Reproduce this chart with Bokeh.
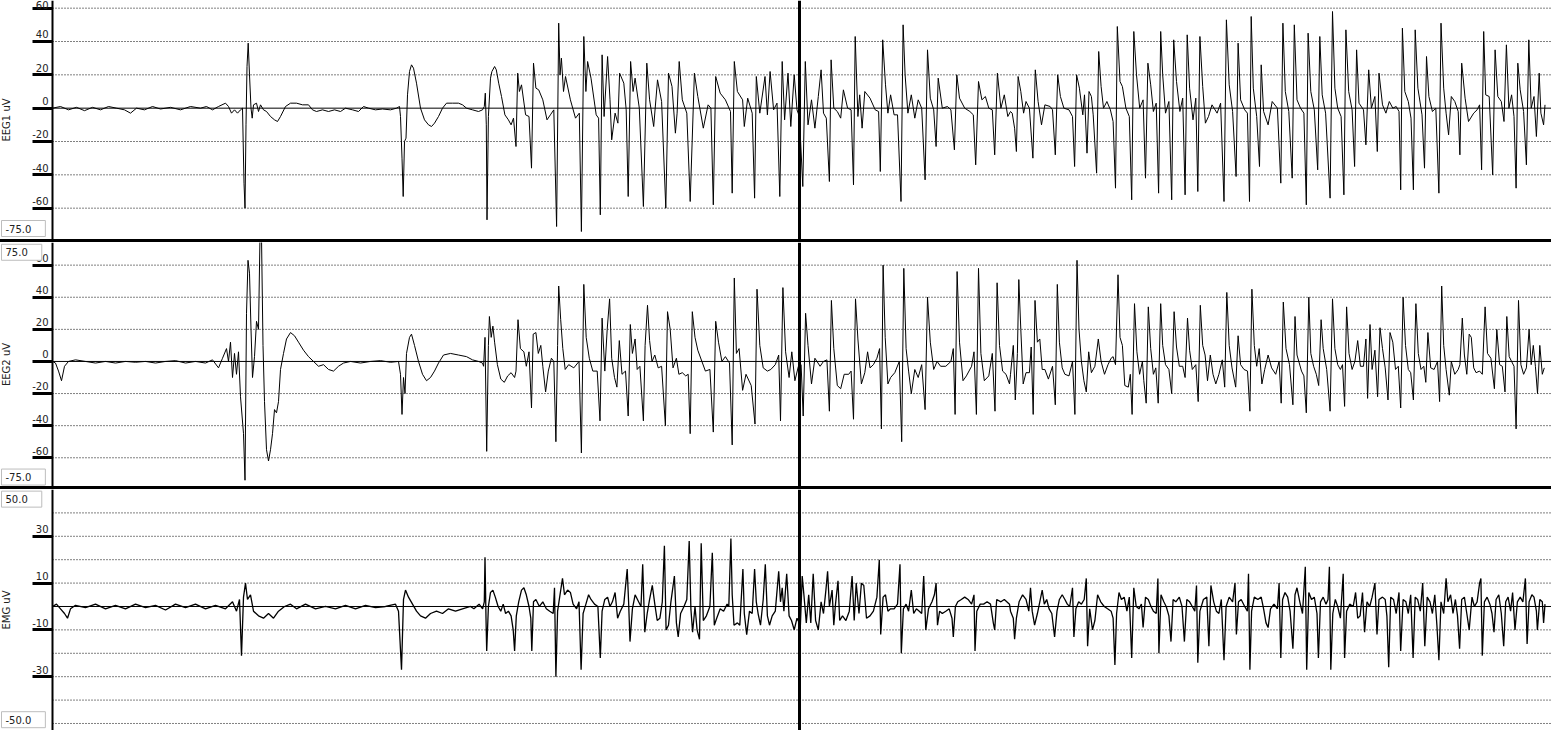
from bokeh.plotting import figure
from bokeh.layouts import column
from bokeh.models import Range1d, FixedTicker, Span, Label, Div, ColumnDataSource
from bokeh.embed import file_html
from bokeh.resources import INLINE

# ---------------- data (sample index, microvolts) ----------------
eeg1 = [(52,0),(60,1),(68,-1),(76,0.5),(84,-1.5),(92,0.5),(100,-1),(108,1),(116,0),(124,-1),(130,-3),(136,0),(144,-1),(152,1),(160,-0.5),(170,0.5),(180,-1),(190,1),(200,0),(206,1),(212,-1),(218,1),(225,3),(228,1),(231,-3),(234,-1),(237,-3),(240,-1),(242,0),(243.5,-45),(244.5,-60),(245.5,-10),(246.5,25),(247.7,39),(249,20),(250.5,0),(251.7,-6),(253,2),(256,3),(258,-2),(260,2),(263,-1),(266,-2),(270,-5),(274,-7),(277,-8),(280,-5),(285,1),(290,3),(296,3),(302,2),(308,2),(312,-1),(316,-2),(322,-1),(328,-2),(334,-1),(340,-2),(345,0),(352,-1),(358,-2),(363,1),(368,0),(375,-1),(382,-0.5),(390,-1),(396,0),(399,1),(400,-5),(401.5,-30),(402.7,-53),(404,-20),(405.5,-18),(407,8),(409,22),(411,26),(413,24),(416,15),(420,0),(424,-7),(428,-10),(431,-11),(434,-9),(438,-5),(442,0),(446,3),(452,3),(458,3),(462,2),(466,0),(472,-1),(478,-2),(482,-1),
(483.8,1),(484.8,9),(485.8,-10),(486.5,-67),(487.9,-5),(490,18),(491.4,22),(494.1,25),(495.8,23),(498.2,15),(501,7),(504.4,-4),(507.9,-7),(510.6,-10),(513,-6),(515.5,-23),(517.2,21),(518.9,10),(521,14),(525.1,-4),(528.5,-5),(531,-36),(533,27),(535.4,12),(538.2,11),(542.3,5),(546.5,-7),(549.9,-4),(553.3,-1),(556.1,-71),(558.2,51),(559.5,20),(560.9,30),(563,10),(565,19),(569.9,5),(575,-6),(578.8,-3),(580.9,-74),(583.3,43),(585.4,10),(587.1,28),(590.5,18),(595.7,-4),(598.1,-6),(599.8,-64),(601.6,32),(603.6,-5),(607.1,31),(609.5,5),(611.2,-19),(614.6,-3),(617.4,-9),(619.1,21),(623.3,15),(625.7,-1),(627.7,-53),(630.1,28),(632.6,10),(634.6,18),(638.8,0),(642.9,-59),(646.3,27),(649.1,5),(653.2,-11),(657,17),(661.1,4),(665.3,-60),(668,21),(671.5,13),(674.9,-15),(676.6,-3),(678.7,28),(681.8,5),(686.3,-3),(689.7,-56),(693.9,21),(697.3,7),(702.8,-12),(707.6,2),(710.4,0),(712.8,-58),(715.2,19),(719.7,9),(724.9,5),(730,-2),(731.7,-51),(733.8,28),(736.9,10),(742.1,5),(743.8,-11),(747.2,6),(751.7,-3),(754.1,-54),(755.8,19),(759.3,-3),(764.5,19),(766.9,-4),(769.6,22),(773.1,-1),(776.5,3),(779.3,-53),(781.7,28),(784.1,-7),(787.5,21),(790.3,-11),(793.7,20),(796.5,-1),(798.9,-5),(802.3,-47),(804.8,28),(807.5,-10),(811,5),(814.4,-12),(817.8,7),(820.6,23),(823,-3),(825.8,-6),(828.9,-44),(830.6,29),(833.3,0),(836.8,-2),(840.2,-6),(842.9,11),(847.1,0),(850.6,-1),(853,-46),(854.7,43),(857.4,-5),(859.2,8),(861.6,-12),(864.3,10),(869.5,6),(874.7,-1),(878.1,-2),(879.8,-38),(882.2,41),(885,14),(887.4,-3),(890.1,8),(893.6,-4),(897,-4),(900.5,-56),(902.6,50),(904.6,20),(907.4,-3),(910.8,8),(914.3,-6),(917.7,5),(921.2,0),(924.6,-43),(927,35),(929.8,6),(933.2,-1),(935.6,-23),(937.7,18),(941.8,0),(947,1),(950.4,-1),(953.9,-25),(956.3,20),(959,6),(964.2,0),(969.4,-2),(972.8,-4),(975.2,-34),(978,16),(981.4,5),(984.9,7),(988.3,0),(991.8,-1),(994.2,-28),(996.9,21),(1000.4,0),(1003.8,8),(1007.3,-5),
(1010,-2),(1011.7,-3),(1014.1,-12),(1015.9,-26),(1017.6,19),(1020.3,10),(1023.1,-3),(1025.5,4),(1028.9,0),(1032.4,-30),(1034.8,23),(1037.6,4),(1041,-10),(1044.4,2),(1049.6,1),(1052,-1),(1054.8,-28),(1057.2,20),(1059.9,7),(1063.4,0),(1068.5,-1),(1072,-5),(1074.1,-35),(1076.1,20),(1078.9,12),(1082.3,-4),(1084,8),(1086.5,-27),(1088.5,10),(1090.9,7),(1092.7,-4),(1096.1,-39),(1098.2,34),(1100.6,13),(1103,0),(1106.4,4),(1109.9,-1),(1112.6,-8),(1115,-48),(1116.8,49),(1119.5,16),(1121.9,13),(1125.4,0),(1128.8,-5),(1131.2,-55),(1133.3,46),(1136,20),(1139.2,0),(1142.6,5),(1145,-42),(1147.4,27),(1150.2,14),(1152.9,-2),(1155.7,3),(1158.1,-51),(1160.2,46),(1162.2,20),(1165,-3),(1168.4,4),(1171.2,-55),(1173.2,41),(1176,16),(1179.4,-2),(1182.2,6),(1184.6,-52),(1186.7,44),(1189.1,12),(1192.5,-7),(1195.3,6),(1197.3,-50),(1199.4,43),(1202.2,13),(1204.9,-9),(1208,-5),(1211.5,2),(1216.6,-3),(1220.1,3),(1223.5,-56),(1225.9,53),(1228.7,14),(1232.1,-2),(1235.6,-41),(1237.6,39),(1240.1,5),(1244.2,-1),(1246.9,-3),(1249,-56),(1250.7,55),(1252.8,12),(1256.2,-5),(1259,-35),(1260.7,26),(1263.1,-2),(1267.6,-10),(1271.7,4),(1276.9,0),(1280.3,-45),(1282.4,51),(1284.8,10),(1288.3,-2),(1291.7,-42),(1293.8,50),(1296.5,5),(1300,0),(1303.4,-3),(1305.8,-58),(1307.6,45),(1310.3,10),(1313.8,-1),(1317.2,-37),(1319.3,43),(1321.7,8),(1325.1,-3),(1329.6,-54),(1332,58),(1334.4,12),(1337.2,0),(1340.6,-5),(1343.4,-52),(1345.4,47),(1348.2,10),(1351.6,-1),(1354.1,-35),(1356.1,35),(1358.5,3),(1363,-1),(1365.4,-22),(1368.2,23),(1370.9,0),(1374.4,7),(1376.8,-26),(1378.5,21),(1382,2),(1385.4,-3),(1388.8,4),(1392.3,0),(1395.7,1),(1398.5,-2),(1400.2,-49),(1401.9,48),(1404.3,10),(1407.8,4),(1410.5,-6),(1412.9,-49),(1414.7,47),(1417.4,12),(1421.5,-4),(1424,-36),(1426,31),(1428.4,7),(1431.9,-2),(1435.3,0),(1438.4,-51),(1440.5,51),(1443.2,12),(1445.6,-3),(1448.1,-16),(1450.8,7),(1454.3,4),(1457.7,-2),(1459.4,-28),(1461.2,27),(1464.6,6),(1468,-8),(1473.2,-3),(1476.6,-1),(1479.1,2),(1481.1,-37),(1483.2,46),(1485.2,8),(1488.7,7),(1492.2,-40),(1494.6,35),(1497.3,7),(1500.8,4),(1503.5,-8),(1505.9,38),(1508.4,0),(1511.1,8),(1513.5,-5),(1515.6,-48),(1517.3,27),(1519.7,11),(1523.1,-2),(1525.9,-34),(1528.3,41),(1530.7,0),(1533.5,7),(1535.9,-17),(1538.7,21),(1540.4,-3),(1543.1,-10),(1544.5,2)]

eeg2 = [(52,0),(55,-1),(58,-6),(61,-12),(64,-3),(68,0),(75,1),(85,0),(95,-1),(105,0),(115,-1),(125,0),(135,-0.5),(145,0),(155,-1),(165,0),(175,0.5),(185,-1),(195,0),(205,-1),(212,1),(218,-4),(222,2),(226,8),(228,0),(230,12),(232,-10),(234,5),(236,-8),(238,6),(240,-22),(243,-45),(244.5,-74),(246,30),(247.5,63),(249,55),(250.5,20),(252,-10),(254,3),(256,25),(258,20),(259.5,78),(261,78),(262.5,10),(264,-25),(266,-55),(268,-62),(270,-55),(272,-45),(274,-30),(276,-32),(278,-25),(280,-5),(283,5),(286,14),(290,18),(294,16),(298,12),(303,7),(308,3),(313,0),(318,-3),(323,-2),(328,-5),(333,-6),(338,-3),(343,-1),(350,0),(360,-1),(370,0),(380,0.5),(390,-0.5),(398,0),(400,-8),(401.5,-33),(403,-10),(404.5,-20),(406,5),(409,15),(411,17),(414,10),(418,0),(422,-8),(426,-12),(430,-10),(434,-6),(438,-1),(443,4),(450,5),(458,4),(466,3),(472,1),(478,0),(482,-1),
(483.1,-3),(484.5,15),(486.2,-56),(487.9,10),(488.9,28),(490.7,15),(492.4,22),(494.1,12),(496.9,-2),(500.3,-11),(503.8,-13),(507.2,-9),(510.6,-7),(514.1,-10),(515.5,-6),(517.5,26),(519.9,8),(523.4,6),(525.8,-3),(528.5,6),(531,-29),(532.7,17),(535.4,18),(537.8,5),(540.3,10),(542.3,-3),(545.1,-19),(547.8,-6),(550.9,2),(553.3,0),(555.4,-50),(557.1,10),(558.2,47),(560.2,26),(562.3,8),(564.7,-5),(568.2,-2),(573.3,-4),(578.5,0),(580.9,-57),(583.3,48),(585.7,15),(588.8,2),(592.3,-6),(596.7,-6),(599.5,-37),(601.6,27),(604.3,-6),(606.7,20),(609.1,39),(611.2,2),(614,-10),(616.4,-16),(618.8,13),(621.5,-8),(625,-6),(627.7,-34),(629.8,23),(631.9,5),(634.6,14),(636.7,-5),(639.4,-3),(642.9,-37),(644.6,10),(647,35),(649.1,13),(651.5,0),(654.3,4),(657.7,-4),(661.1,-3),(664.9,-40),(667,31),(669.7,20),(672.5,-4),(675.9,2),(678.4,-8),(681.8,-7),(685.2,-9),(687.7,-8),(689.7,-45),(691.8,31),(694.5,15),(697.3,7),(701.4,0),(704.9,-6),(709.4,-5),(712.8,-44),(715.2,25),(718,12),(721.4,0),(724.9,3),(729,-1),(731.7,-52),(733.8,52),(735.9,5),(738.6,8),(742.1,-18),(745.5,-8),(750.7,-15),(754.5,-39),(756.5,45),(759.3,10),(762.7,-4),(766.9,-6),(770.3,-5),(774.8,-2),(778.2,4),(780,-37),(782.4,46),(785.1,6),(788.6,-10),(791.3,6),(794.4,-12),(797.9,-3),(800.6,-2),(802.7,-34),(805.1,30),(807.5,10),(811,-14),(814.4,2),(819.6,-3),(823,0),(826.4,1),(828.9,-31),(830.9,38),(833.3,8),(836.8,-15),(840.2,-17),(843.7,-8),(848.2,-8),(850.6,-6),(853,-36),(855,39),(857.4,14),(860.9,-14),(864.3,-7),(867.1,6),(869.5,-4),(872.9,-2),(876.4,2),(879.1,8),(880.9,-42),(882.6,60),(884.7,15),(887.4,-14),(890.1,-10),(894.3,-7),(898.8,0),(901.2,-50),(903.3,58),(905.6,8),(908.1,-6),(910.8,-20),(914.3,-5),(917.7,-10),(921.2,-2),(924.6,-30),(927,40),(929.8,12),(933.2,-5),(936.6,0),(940.1,-3),(945.3,-3),(950.4,0),(952.8,8),(954.6,-33),(956.6,56),(959,12),(962.5,-12),(965.9,-9),(971.1,-3),(973.5,6),(975.9,-33),(978,58),(980.4,5),(983.8,-12),(988.3,-9),(991.8,5),(994.5,-31),(996.6,49),(999,10),(1002.1,-6),(1005.5,-8),(1009,-14),
(1010,-8),(1012.8,10),(1014.8,-24),(1016.9,5),(1018.3,51),(1020.3,20),(1022.7,-14),(1025.5,-7),(1028.9,-7),(1030.7,9),(1032.7,-33),(1034.5,38),(1036.9,12),(1039.3,14),(1041.7,-5),(1044.4,-5),(1047.9,-11),(1052,-3),(1054.8,-27),(1056.8,48),(1058.9,12),(1061.7,-4),(1064.4,-8),(1068.5,-9),(1072,0),(1074.4,-33),(1076.5,63),(1078.5,20),(1080.9,0),(1083.4,-12),(1085.8,-19),(1088.2,6),(1090.9,-7),(1094.4,-3),(1097.8,14),(1100.6,0),(1104,-8),(1107.5,-2),(1110.6,2),(1112.6,3),(1115,-2),(1117.5,54),(1119.5,15),(1121.9,10),(1124.3,-15),(1127.8,-16),(1129.8,-8),(1131.6,-33),(1134,36),(1136.4,6),(1139.1,-8),(1141.9,0),(1143.3,-12),(1145.7,-26),(1147.8,34),(1150.2,8),(1152.9,-8),(1155.3,-4),(1157.7,-26),(1160.2,36),(1162.2,10),(1165,-2),(1168.4,-5),(1171.2,-20),(1173.6,31),(1176,9),(1178.8,-3),(1182.2,-3),(1184.6,-10),(1187,27),(1189.1,7),(1191.8,-5),(1195.3,-2),(1197.7,-25),(1199.8,35),(1202.2,10),(1204.6,4),(1207,-12),(1209.8,4),(1212.5,-8),(1215.3,-14),(1218.4,-8),(1221.8,1),(1224.2,-16),(1226.3,43),(1228.7,10),(1231.5,-4),(1235.2,-16),(1237.6,16),(1240.1,-2),(1243.5,-5),(1247,-6),(1249.4,-31),(1251.4,45),(1253.8,10),(1256.2,-3),(1258.7,8),(1261.4,-14),(1264.2,-5),(1267.6,4),(1271.1,-4),(1275.2,-8),(1278.6,0),(1280.7,-26),(1282.8,37),(1285.5,8),(1289,-2),(1292.4,-27),(1294.5,28),(1296.5,4),(1301,-6),(1303.4,-9),(1305.8,-32),(1308.3,40),(1310.3,5),(1313.1,-3),(1315.8,-8),(1318.2,-15),(1320.6,26),(1322.7,8),(1326.2,-5),(1329.6,-31),(1332,39),(1334.4,8),(1337.2,-2),(1339.9,-5),(1342,-2),(1344.1,-28),(1346.1,34),(1348.5,5),(1351.6,-5),(1354.4,0),(1357.2,13),(1359.9,-3),(1363,-3),(1365.4,14),(1367.1,-23),(1369.5,23),(1371.6,-5),(1374.4,7),(1377.1,-22),(1379.5,21),(1382,8),(1384.7,-4),(1387.5,-24),(1389.5,18),(1392.3,12),(1395,-5),(1397.8,-3),(1400.2,-29),(1402.6,40),(1405,10),(1407.8,-5),(1410.2,-7),(1412.9,-24),(1415.4,36),(1417.8,5),(1420.5,-5),(1423.3,-3),(1425.3,-13),(1427.4,18),(1430.2,-4),(1433.6,-5),(1437,0),(1439.1,-25),(1441.2,47),(1443.2,10),(1445.6,-5),(1448.8,-21),(1450.8,0),(1454.3,-8),(1457.7,-5),(1459.4,-2),(1461.8,27),(1463.9,4),(1466.3,-8),(1468.7,17),(1470.8,15),(1473.2,-4),(1475.6,-7),(1479.1,-6),(1481.8,-8),(1484.6,34),(1487,5),(1490.4,2),(1493.9,-17),(1496.3,20),(1499.1,-2),(1501.8,-3),(1504.5,-19),(1506.3,28),(1508.7,3),(1511.1,0),(1513.5,-3),(1515.6,-42),(1518,38),(1520.4,-2),(1523.1,-8),(1525.9,-4),(1528.6,20),(1530.7,-2),(1532.8,10),(1534.9,-3),(1537,-20),(1539.3,10),(1541.8,-8),(1543.8,-4)]

emg = [(52,0),(56,1),(60,-1),(64,-3),(67,-5),(70,-1),(75,0.5),(85,-0.5),(95,1),(105,-1),(115,0.5),(125,-1),(135,1),(145,-0.5),(155,0.5),(165,-1.5),(175,1),(185,-0.5),(195,1),(205,-1),(215,0.5),(225,-1),(232,2),(236,-2),(239,3),(241,-21),(243,4),(245,10),(247,3),(250,5),(253,-2),(258,-4),(263,-5),(268,-3),(273,-5),(278,-2),(284,0),(290,1),(296,-1),(305,1),(315,-1),(325,0),(335,-1),(345,0.5),(355,-1),(365,0.5),(375,-0.5),(385,0),(395,1),(398,-2),(401,-27),(403,3),(405,7),(408,4),(412,1),(416,-2),(420,-4),(425,-5),(430,-3),(436,-2),(442,-3),(448,-1),(455,-2),(462,-1),(470,0),
(473.4,-1),(478.6,1),(482.1,-1),(483.8,2),(484.5,21),(485.5,-5),(486.2,-19),(487.9,0),(490,6),(492.4,7),(494.8,4),(497.6,0),(500.3,-2),(502.7,1),(505.1,-3),(507.9,-2),(510.6,-4),(512.7,-10),(514.1,-19),(515.8,-4),(518.2,2),(521,7),(523.4,8),(525.8,5),(528.5,0),(530.3,-5),(531.3,-19),(533,2),(535.4,3),(538.9,0),(542.3,2),(545.8,-1),(549.2,-2),(552.7,-3),(554,8),(555.4,-30),(557.1,-2),(559.5,5),(562,12),(564,5),(567.1,7),(569.9,6),(572.6,1),(576.1,-1),(578.5,2),(580.6,-27),(582.6,-3),(585.4,1),(588.1,5),(590.5,3),(594,1),(597.4,0),(599.8,-22),(601.6,-2),(604.3,3),(607.1,4),(609.5,0),(611.9,2),(614.6,6),(617.1,-5),(619.8,-2),(623.3,1),(626.7,16),(628.1,2),(629.5,-15),(631.9,-1),(634.6,5),(638.1,2),(640.5,0),(642.2,18),(644.3,-11),(646.7,-3),(649.1,3),(651.8,9),(654.3,1),(656.7,-6),(659.4,-5),(661.8,2),(663.9,26),(665.6,-10),(668,-8),(670.4,2),(673.9,13),(675.9,-7),(677.7,-13),(680.1,-3),(683.5,0),(686.3,3),(688.7,28),(690.4,-1),(692.1,-11),(694.5,0),(696.6,-10),(699,-14),(700.7,27),(702.8,-6),(705.9,-4),(709.4,0),(711.8,23),(713.8,-8),(716.2,-5),(719.7,-1),(723.1,-2),(726.6,1),(728.3,0),(730.4,29),(731.7,5),(733.5,-8),(736.9,-7),(739.3,-8),(742.4,16),(743.8,-3),(746.2,-12),(749,-2),(751.7,-3),(754.1,16),(755.8,2),(757.6,-3),(760,-8),(762.7,3),(764.8,18),(766.9,-4),(769,-8),(771.7,-4),(774.8,-2),(778.2,15),(780,2),(781.7,8),(783.4,-2),(786.2,14),(788.6,-4),(791,-6),(793.7,-10),(796.5,-5),(799.9,-8),(801.7,13),(803.4,5),(805.8,-7),(808.2,5),(810.3,-7),(812.7,14),(815.1,-6),(817.8,-10),(820.6,2),(823,-3),(825.4,7),(827.1,15),(828.9,0),(831.6,7),(833.3,-8),(835,1),(837.5,11),(839.2,-6),(842,-4),(845.4,-6),(848.8,-2),(851.6,13),(853.7,-6),(855.7,10),(858.5,-3),(860.9,10),(863.3,9),(866,-5),(869.5,-4),(872.9,-2),(876.4,4),(878.8,20),(880.2,-12),(882.6,4),(885,5),(887.4,-2),(890.1,-1),(893.6,-1),(897,1),(899.5,18),(900.8,-20),(902.9,-1),(905.6,1),(908.1,-2),(910.8,7),(913.2,-3),(915.9,-1),(918.8,-2),(921.2,-3),(923.2,13),(925.3,-10),(928,-1),(931.5,2),(933.9,5),(935.6,10),(937,-8),(939.1,-2),(941.8,-3),(945.3,-2),(948.7,-1),(951.5,-5),(952.8,-13),(954.9,0),(957.3,2),(960.8,3),(964.2,4),(967.6,3),(971.1,1),(973.5,5),(974.5,-19),(976.3,-2),(979.7,1),(983.1,1),(986.6,2),(990,1),(992.8,-7),(994.2,-10),(996.2,3),(1000.4,2),(1003.8,3),(1009,1),
(1010,-2),(1012.8,-5),(1014.1,-14),(1015.9,-5),(1018.6,2),(1022.1,5),(1025.5,3),(1028.3,-2),(1030,8),(1031.7,-2),(1034.1,-8),(1036.9,-3),(1039.3,2),(1041.7,7),(1043.8,1),(1046.2,3),(1048.6,-1),(1051.3,-3),(1054.1,-13),(1056.5,-2),(1058.9,3),(1061.7,5),(1064.4,3),(1066.8,1),(1069.2,0),(1072,8),(1073.4,-13),(1075.4,-1),(1078.2,2),(1080.9,1),(1083.7,3),(1085.8,12),(1087.1,-17),(1089.2,-1),(1092,-10),(1094.4,-6),(1097.1,5),(1100.2,2),(1103.7,0),(1107.1,-1),(1110.6,-2),(1112.6,-5),(1114.4,-25),(1116.1,-3),(1118.5,6),(1120.9,3),(1123.7,4),(1126.4,-2),(1128.8,4),(1131.2,-22),(1133.3,8),(1135.7,0),(1138.5,-1),(1140.9,1),(1142.6,-9),(1145,4),(1147.8,3),(1150.5,0),(1152.9,-2),(1155.7,-3),(1157.4,12),(1158.4,-20),(1160.5,5),(1163.3,2),(1165.7,0),(1168.4,-4),(1170.5,-15),(1172.6,3),(1175.3,2),(1178.8,4),(1181.5,0),(1183.9,-15),(1186.3,3),(1189.1,2),(1191.8,0),(1194.3,-2),(1196,9),(1197.3,-24),(1199.4,-2),(1202.9,3),(1206.3,4),(1208.4,-17),(1210.4,9),(1213.2,2),(1215.9,-2),(1218.4,-3),(1220.8,3),(1223.5,-23),(1225.6,0),(1228.7,4),(1232.1,2),(1234.5,10),(1235.9,-12),(1238,2),(1240.7,3),(1244.2,0),(1246.9,-2),(1248,14),(1249.4,-27),(1251.1,-2),(1253.8,4),(1257.3,3),(1260.7,4),(1263.1,-1),(1265.5,-7),(1267.6,-9),(1270,-1),(1273.5,1),(1276.9,-1),(1278.6,10),(1280.3,-22),(1282.1,3),(1284.5,6),(1287.2,4),(1289.6,-2),(1292.4,-18),(1294.5,5),(1296.5,8),(1299.3,2),(1302,-3),(1304.8,17),(1306.2,-27),(1308.3,6),(1311,3),(1313.8,4),(1316.5,-3),(1317.9,-22),(1320,2),(1322.7,4),(1325.5,1),(1327.5,3),(1328.9,17),(1330.3,-27),(1332.3,-3),(1334.8,3),(1337.2,0),(1339.9,-5),(1342.7,14),(1344.1,-22),(1346.1,-2),(1349.2,1),(1352.7,0),(1355.1,6),(1357.2,-5),(1359.6,-4),(1362,6),(1364.1,-11),(1366.5,2),(1369.2,0),(1371.6,4),(1374.4,10),(1376.5,-12),(1378.5,3),(1382,4),(1384.7,3),(1386.4,-4),(1388.2,-26),(1390.2,4),(1393,3),(1395.7,-3),(1398.5,6),(1400.2,-19),(1402.6,3),(1405.4,2),(1407.8,-3),(1410.2,5),(1412.6,-22),(1414.7,4),(1417.1,3),(1419.8,-2),(1422.2,10),(1424.3,-17),(1426.7,4),(1429.5,2),(1431.9,-3),(1434.3,5),(1436.4,-8),(1438.4,-23),(1440.5,2),(1443.2,-3),(1445.6,12),(1447.4,2),(1450.1,5),(1452.5,-3),(1454.9,3),(1457,-4),(1459.1,-18),(1461.2,3),(1463.9,4),(1466.3,-3),(1468.7,-10),(1471.5,4),(1473.9,0),(1476.6,2),(1479.1,10),(1480.4,12),(1481.8,-21),(1483.9,2),(1486.6,4),(1489.4,1),(1491.5,-3),(1493.5,-11),(1495.6,3),(1498.3,5),(1500.8,-3),(1503.2,-17),(1505.2,2),(1507.6,4),(1510.1,-2),(1512.1,6),(1514.5,-10),(1516.9,2),(1519.7,4),(1522.4,2),(1524.9,12),(1526.6,-16),(1528.6,2),(1531.4,5),(1533.5,4),(1535.9,-2),(1536.9,-10),(1539.3,3),(1541.8,2),(1543.1,-7),(1544.5,1)]

channel_names = ["EEG1 uV", "EEG2 uV", "EMG uV"]
eeg_ticks = [-60, -40, -20, 0, 20, 40, 60]
eeg_grid = [-60, -40, -20, 20, 40, 60]
emg_ticks = [-30, -10, 10, 30]
emg_grid = [-50, -40, -30, -20, -10, 10, 20, 30, 40]
eeg_scale = ["75.0", "-75.0"]
emg_scale = ["50.0", "-50.0"]
window_start, trace_start, window_end = 0, 52, 1551   # samples shown / where the trace area starts
cursor_sample = 799

FONT = "DejaVu Sans"
FULL_W = 1551


def panel(data, height, y0, y1, ticks, lift, grid, name, top_txt, top_y, bot_txt, bot_y, lw):
    p = figure(width=FULL_W, height=height, x_range=Range1d(window_start, window_end),
               y_range=Range1d(y0, y1), output_backend="svg", toolbar_location=None,
               x_axis_location=None, min_border_left=0, min_border_right=0,
               min_border_top=0, min_border_bottom=0)
    p.outline_line_color = None
    p.xgrid.visible = False
    p.ygrid.visible = False
    # dotted reference lines and the solid zero line, only over the trace area
    p.segment(x0=trace_start, x1=window_end, y0=grid, y1=grid, line_color="black",
              line_dash="1 2", line_width=1)
    p.segment(x0=[trace_start], x1=[window_end], y0=[0], y1=[0], line_color="black", line_width=1)

    ax = p.yaxis[0]
    ax.fixed_location = trace_start
    # labels sit just above the thick tick bars (bars = minor ticks at the values)
    ax.ticker = FixedTicker(ticks=[t + lift for t in ticks], minor_ticks=ticks)
    ax.major_label_overrides = {t + lift: str(t) for t in ticks}
    ax.axis_label = name
    ax.axis_label_text_font = FONT
    ax.axis_label_text_font_size = "10px"
    ax.axis_label_text_font_style = "normal"
    ax.axis_label_text_color = "#222222"
    ax.axis_label_standoff = 17
    ax.major_label_text_font = FONT
    ax.major_label_text_font_size = "10px"
    ax.major_label_text_color = "#222222"
    ax.major_label_standoff = -16
    ax.major_tick_out = 20
    ax.major_tick_in = 0
    ax.major_tick_line_color = None
    ax.minor_tick_out = 20
    ax.minor_tick_in = 0
    ax.minor_tick_line_width = 3
    ax.minor_tick_line_color = "black"
    ax.axis_line_width = 2
    ax.axis_line_color = "black"

    src = ColumnDataSource(dict(t=[d[0] for d in data], v=[d[1] for d in data]))
    p.line("t", "v", source=src, line_color="black", line_width=lw)
    p.add_layout(Span(location=cursor_sample, dimension="height", line_color="black", line_width=3))

    for txt, yv, base in [(top_txt, top_y, "top"), (bot_txt, bot_y, "bottom")]:
        if txt is None:
            continue
        p.add_layout(Label(x=window_start + 1, y=yv, x_units="data", y_units="data", text=txt,
                           text_font=FONT, text_font_size="10px", text_color="#222222",
                           text_baseline=base, border_line_color="#bdbdbd",
                           background_fill_color="white", padding=(4, 14, 4, 4)))
    return p


p1 = panel(eeg1, 239, -78.8, 64.6, eeg_ticks, 4.3, eeg_grid, channel_names[0],
           None, None, eeg_scale[1], -77.0, 1)
p2 = panel(eeg2, 244, -77.9, 74.1, eeg_ticks, 4.4, eeg_grid, channel_names[1],
           eeg_scale[0], 73.0, eeg_scale[1], -77.0, 1)
p3 = panel(emg, 241, -53.0, 50.0, emg_ticks, 3.0, emg_grid, channel_names[2],
           emg_scale[0], 49.3, emg_scale[1], -51.8, 1.3)


def sep():
    return Div(text="", width=FULL_W, height=3, margin=0,
               styles={"background-color": "black", "width": f"{FULL_W}px", "height": "3px"})


layout = column(p1, sep(), p2, sep(), p3, spacing=0)
open("out.html", "w").write(file_html(layout, INLINE))
